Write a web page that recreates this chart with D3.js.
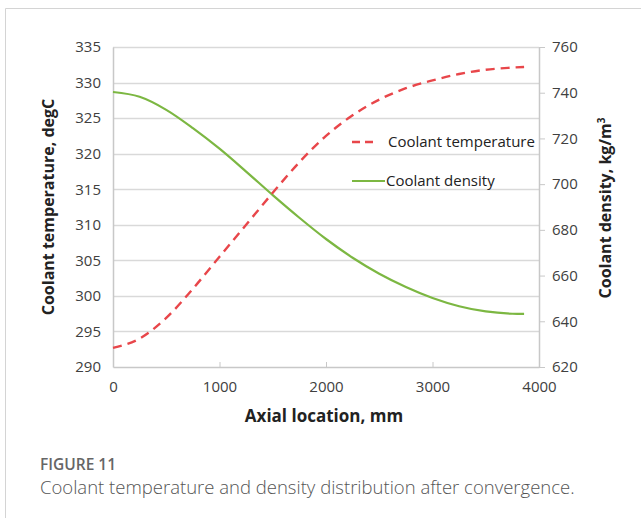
<!DOCTYPE html>
<html>
<head>
<meta charset="utf-8">
<script src="https://cdn.jsdelivr.net/npm/d3@7"></script>
<style>
  body { margin: 0; background: #fff; }
  svg { display: block; }
  .tick text { font-family: "Open Sans", sans-serif; font-size: 15px; fill: #404040; }
</style>
</head>
<body>
<script>
// axial positions in mm
const axial = [0, 250, 500, 750, 1000, 1250, 1500, 1750, 2000, 2250, 2500, 2750, 3000, 3250, 3500, 3750, 3860];
// coolant temperature, degC
const temperature = [292.7, 294.0, 296.9, 301.0, 305.5, 310.0, 314.5, 318.8, 322.5, 325.4, 327.6, 329.2, 330.3, 331.2, 331.8, 332.1, 332.2];
// coolant density, kg/m3
const density = [740.3, 738.2, 732.5, 724.5, 715.5, 705.5, 695.2, 685.3, 676.0, 667.8, 660.8, 655.0, 650.2, 646.6, 644.3, 643.3, 643.2];

const xTicks = [0, 1000, 2000, 3000, 4000];
const tTicks = [290, 295, 300, 305, 310, 315, 320, 325, 330, 335];
const dTicks = [620, 640, 660, 680, 700, 720, 740, 760];

const W = 641, H = 518;
const m = { top: 47, left: 113, right: 539, bottom: 367 };

const svg = d3.select("body").append("svg")
    .attr("width", W)
    .attr("height", H);

// outer frame (cut off at right and bottom)
svg.append("path")
    .attr("d", "M5.5," + H + " V8.5 H" + W)
    .attr("fill", "none")
    .attr("stroke", "#d4d4d4")
    .attr("stroke-width", 1);

const x = d3.scaleLinear().domain([0, 4000]).range([m.left, m.right]);
const yT = d3.scaleLinear().domain([290, 335]).range([m.bottom, m.top]);
const yD = d3.scaleLinear().domain([620, 760]).range([m.bottom, m.top]);

// gridlines from left axis
svg.append("g")
    .selectAll("line")
    .data(tTicks.slice(1))
    .enter()
    .append("line")
    .attr("x1", m.left).attr("x2", m.right)
    .attr("y1", d => Math.round(yT(d)) + 0.5)
    .attr("y2", d => Math.round(yT(d)) + 0.5)
    .attr("stroke", "#d9d9d9")
    .attr("stroke-width", 1.5);

// left axis (labels only)
const gL = svg.append("g")
    .attr("transform", "translate(" + m.left + ",0)")
    .call(d3.axisLeft(yT).tickValues(tTicks).tickSize(0).tickPadding(12));
gL.select(".domain").attr("stroke", "#c8c8c8").attr("stroke-width", 1.5);

// right axis
const gR = svg.append("g")
    .attr("transform", "translate(" + m.right + ",0)")
    .call(d3.axisRight(yD).tickValues(dTicks).tickSizeInner(6).tickSizeOuter(0).tickPadding(7));
gR.select(".domain").attr("stroke", "#c8c8c8").attr("stroke-width", 1.5);
gR.selectAll(".tick line").attr("stroke", "#c8c8c8");

// bottom axis, ticks pointing inward
const gB = svg.append("g")
    .attr("transform", "translate(0," + m.bottom + ")")
    .call(d3.axisBottom(x).tickValues(xTicks).tickFormat(d3.format("d")).tickSizeInner(-5).tickSizeOuter(0).tickPadding(14));
gB.select(".domain").attr("stroke", "#c8c8c8").attr("stroke-width", 1.5);
gB.selectAll(".tick line").attr("stroke", "#c8c8c8");

// curves
const lineT = d3.line().x((d, i) => x(axial[i])).y(d => yT(d)).curve(d3.curveMonotoneX);
const lineD = d3.line().x((d, i) => x(axial[i])).y(d => yD(d)).curve(d3.curveMonotoneX);

svg.append("path")
    .datum(density)
    .attr("d", lineD)
    .attr("fill", "none")
    .attr("stroke", "#7cb742")
    .attr("stroke-width", 2.2);

svg.append("path")
    .datum(temperature)
    .attr("d", lineT)
    .attr("fill", "none")
    .attr("stroke", "#e8464a")
    .attr("stroke-width", 2.4)
    .attr("stroke-dasharray", "9,6");

// legend
const legend = svg.append("g");
legend.append("line")
    .attr("x1", 352).attr("x2", 378).attr("y1", 142).attr("y2", 142)
    .attr("stroke", "#e8464a").attr("stroke-width", 2.4).attr("stroke-dasharray", "8,5");
legend.append("text")
    .attr("x", 388).attr("y", 147)
    .attr("font-family", "Open Sans, sans-serif").attr("font-size", 15).attr("fill", "#222")
    .text("Coolant temperature");
legend.append("line")
    .attr("x1", 352).attr("x2", 385).attr("y1", 181).attr("y2", 181)
    .attr("stroke", "#7cb742").attr("stroke-width", 2.2);
legend.append("text")
    .attr("x", 386).attr("y", 186)
    .attr("font-family", "Open Sans, sans-serif").attr("font-size", 15).attr("fill", "#222")
    .text("Coolant density");

// axis titles
svg.append("text")
    .attr("x", (m.left + m.right) / 2 - 2).attr("y", 422)
    .attr("text-anchor", "middle")
    .attr("font-family", "Open Sans, sans-serif").attr("font-size", 17).attr("font-weight", "bold").attr("fill", "#222")
    .text("Axial location, mm");

svg.append("text")
    .attr("transform", "translate(54,207) rotate(-90)")
    .attr("text-anchor", "middle")
    .attr("font-family", "Open Sans, sans-serif").attr("font-size", 16).attr("font-weight", "bold").attr("fill", "#222")
    .text("Coolant temperature, degC");

const rt = svg.append("text")
    .attr("transform", "translate(611,208) rotate(-90)")
    .attr("text-anchor", "middle")
    .attr("font-family", "Open Sans, sans-serif").attr("font-size", 16).attr("font-weight", "bold").attr("fill", "#222");
rt.append("tspan").text("Coolant density, kg/m");
rt.append("tspan").attr("font-size", 10).attr("dy", -6).text("3");

// caption
svg.append("text")
    .attr("x", 40).attr("y", 470)
    .attr("font-family", "Open Sans, sans-serif").attr("font-size", 15.5).attr("font-weight", 600).attr("fill", "#666")
    .text("FIGURE 11");
svg.append("text")
    .attr("x", 40).attr("y", 494)
    .attr("font-family", "Open Sans, sans-serif").attr("font-size", 18.5).attr("font-weight", 300).attr("fill", "#555")
    .text("Coolant temperature and density distribution after convergence.");
</script>
</body>
</html>
